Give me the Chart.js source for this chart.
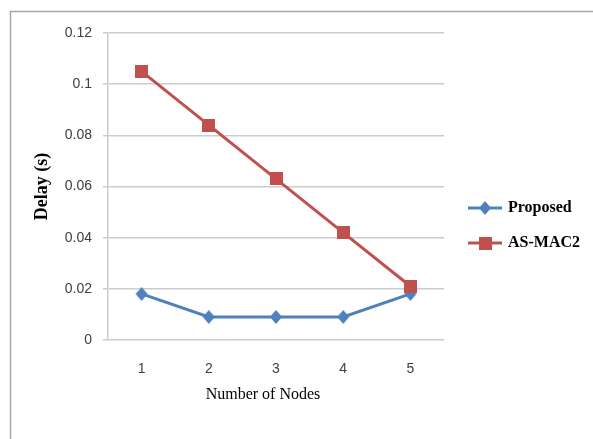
<!DOCTYPE html>
<html><head><meta charset="utf-8">
<script src="https://cdn.jsdelivr.net/npm/chart.js@4/dist/chart.umd.min.js"></script>
<style>html,body{margin:0;padding:0;background:#fff;}#wrap{width:593px;height:439px;position:relative;}</style>
</head><body><div id="wrap"><canvas id="c" width="593" height="439"></canvas></div>
<script>
const categories = ['1','2','3','4','5'];
const proposed = [0.018, 0.009, 0.009, 0.009, 0.018];
const asmac2 = [0.105, 0.084, 0.063, 0.042, 0.021];
const seriesNames = ['Proposed','AS-MAC2'];
const yTicks = [0, 0.02, 0.04, 0.06, 0.08, 0.1, 0.12];
const xTitle = 'Number of Nodes';
const yTitle = 'Delay (s)';

function diamond(color, hw, hh){
  const c=document.createElement('canvas'); c.width=hw*2+2; c.height=hh*2+2;
  const g=c.getContext('2d'); g.fillStyle=color; g.beginPath();
  g.moveTo(hw+1,1); g.lineTo(hw*2+1,hh+1); g.lineTo(hw+1,hh*2+1); g.lineTo(1,hh+1); g.closePath(); g.fill();
  return c;
}
function square(color, s){
  const c=document.createElement('canvas'); c.width=s; c.height=s;
  const g=c.getContext('2d'); g.fillStyle=color; g.fillRect(0,0,s,s);
  return c;
}
const blue='#4f81bd', red='#c0504d';
const dmd = diamond(blue,6,7);
const sq = square(red,13);

const framePlugin = {
  id:'frame',
  beforeDraw(chart){
    const ctx=chart.ctx; ctx.save(); ctx.fillStyle='#fff'; ctx.fillRect(0,0,chart.width,chart.height);
    ctx.strokeStyle='#a6a6a6'; ctx.lineWidth=1.5; ctx.strokeRect(10.5,11.5,700,500); ctx.restore();
  },
  afterDraw(chart){
    const ctx=chart.ctx; ctx.save();
    const ys=[208,243];
    const marks=[dmd,sq];
    chart.data.datasets.forEach((ds,i)=>{
      const y=ys[i];
      ctx.strokeStyle=ds.borderColor; ctx.lineWidth=3; ctx.beginPath(); ctx.moveTo(468,y); ctx.lineTo(502,y); ctx.stroke();
      const m=marks[i]; ctx.drawImage(m,485-m.width/2,y-m.height/2);
      ctx.fillStyle='#000'; ctx.font='bold 16px "Liberation Serif"'; ctx.textBaseline='middle'; ctx.textAlign='left';
      ctx.fillText(ds.label,508,y);
    });
    // x axis title (offset left as in the reference)
    ctx.fillStyle='#000'; ctx.font='16px "Liberation Serif"'; ctx.textAlign='center'; ctx.textBaseline='middle';
    ctx.fillText(xTitle,263,395);
    ctx.restore();
  }
};

new Chart(document.getElementById('c'),{
  type:'line',
  data:{labels:categories,datasets:[
    {label:seriesNames[0],data:proposed,borderColor:blue,backgroundColor:blue,borderWidth:3,pointStyle:dmd,order:1,tension:0},
    {label:seriesNames[1],data:asmac2,borderColor:red,backgroundColor:red,borderWidth:3,pointStyle:sq,order:0,tension:0}
  ]},
  options:{
    responsive:false,animation:false,
    layout:{padding:{left:20,top:33,right:149,bottom:0}},
    plugins:{legend:{display:false},tooltip:{enabled:false}},
    scales:{
      x:{offset:true,grid:{display:false},border:{display:false},
        ticks:{color:'#404040',font:{family:'"Liberation Sans"',size:14},padding:13},
        title:{display:false},
        afterFit(s){s.height=99;}},
      y:{min:0,max:0.12,
        afterBuildTicks(s){s.ticks=yTicks.map(v=>({value:v}));},
        grid:{color:'#cccccc',lineWidth:1.5,tickLength:5,drawTicks:true},
        border:{display:true,color:'#cccccc',width:1.5},
        ticks:{color:'#404040',font:{family:'"Liberation Sans"',size:14},padding:11,callback:v=>String(+v.toFixed(2))},
        title:{display:true,text:yTitle,color:'#000',font:{family:'"Liberation Serif"',size:18,weight:'bold'},padding:{top:12,bottom:0}},
        afterFit(s){s.width=88;}}
    }
  },
  plugins:[framePlugin]
});
</script></body></html>
